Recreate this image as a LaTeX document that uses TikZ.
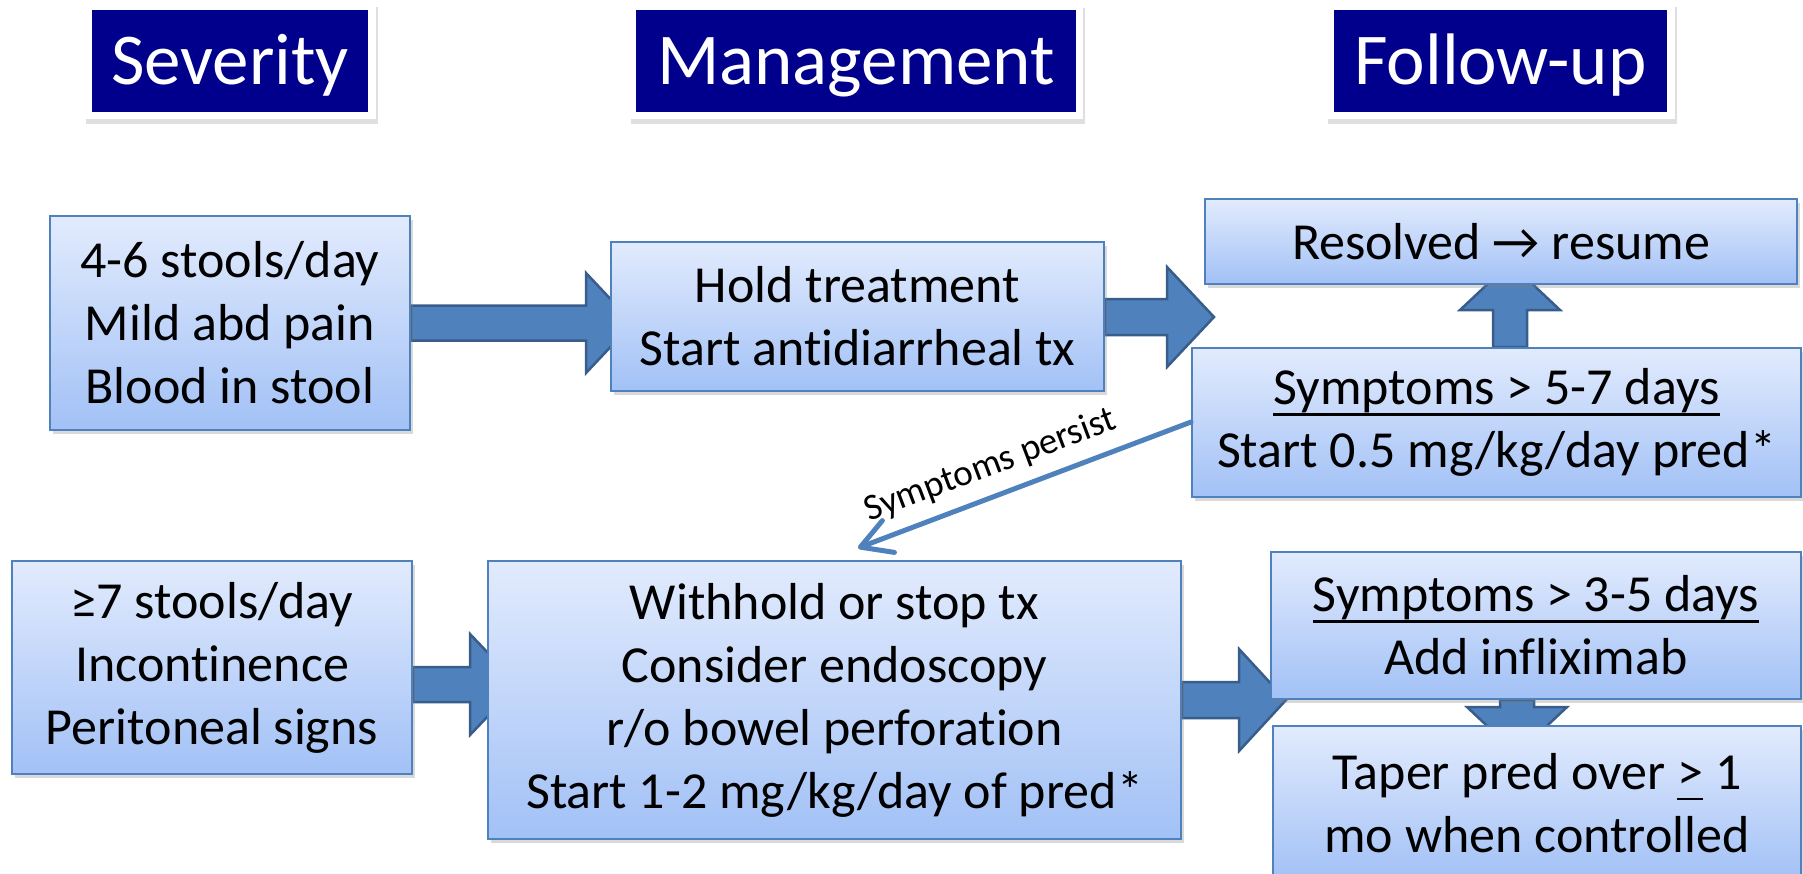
\documentclass[tikz,border=0pt]{standalone}
\usepackage{fontspec}
\setmainfont{Carlito}[Ligatures=NoCommon]
\usetikzlibrary{calc,shadows,arrows.meta}
\pgfdeclarelayer{bg}
\pgfsetlayers{bg,main}
\definecolor{hdrnavy}{RGB}{0,0,140}
\definecolor{boxtop}{RGB}{226,235,253}
\definecolor{boxbot}{RGB}{162,193,246}
\definecolor{boxline}{RGB}{79,129,189}
\definecolor{arrfill}{RGB}{79,129,189}
\definecolor{arrline}{RGB}{56,93,138}
\newcommand\ulx[1]{\setbox0\hbox{#1}\rlap{\rule[-0.21em]{\wd0}{0.05em}}\box0\relax}
\tikzset{
  flowbox/.style={rectangle, draw=boxline, line width=2pt, top color=boxtop, bottom color=boxbot,
    inner sep=0pt, align=center, font=\fontsize{52}{63}\selectfont,
    drop shadow={opacity=0.3, shadow xshift=3pt, shadow yshift=-4pt}},
  hdrframe/.style={rectangle, fill=white, inner sep=0pt,
    drop shadow={opacity=0.25, shadow xshift=2pt, shadow yshift=-5pt}},
  hdrtext/.style={rectangle, fill=hdrnavy, inner sep=0pt, text=white,
    font=\fontsize{73}{88}\selectfont, text height=46pt, text depth=0pt},
  barrow/.style={fill=arrfill, draw=arrline, line width=2.5pt, line join=miter},
  thinarrow/.style={draw=arrfill, line width=5pt, line cap=round,
    -{Straight Barb[length=30pt,width=34pt,line cap=round,line join=round]}},
  lbl/.style={font=\fontsize{37}{44}\selectfont, text=black, inner sep=2pt}
}
% horizontal block arrow: start, target edge, shaft half, head half, head back offset, tip length
\newcommand\rarr[6]{%
  \draw[barrow] ($(#1)+(0,-#3)$) -- ($(#2)+(-#5,-#3)$) -- ($(#2)+(-#5,-#4)$)
    -- ($(#2)+({#6-#5},0)$) -- ($(#2)+(-#5,#4)$) -- ($(#2)+(-#5,#3)$)
    -- ($(#1)+(0,#3)$) -- cycle;}
% vertical block arrow: start, target edge, shaft half, head half, back offset, tip length, dir (+1 down, -1 up)
\newcommand\varr[7]{%
  \draw[barrow] ($(#1)+(-#3,0)$) -- ($(#2)+(-#3,{-(#7)*#5})$) -- ($(#2)+(-#4,{-(#7)*#5})$)
    -- ($(#2)+(0,{(#7)*(#6-#5)})$) -- ($(#2)+(#4,{-(#7)*#5})$) -- ($(#2)+(#3,{-(#7)*#5})$)
    -- ($(#1)+(#3,0)$) -- cycle;}
\begin{document}
\begin{tikzpicture}[x=1pt,y=-1pt]
\useasboundingbox (0,0) rectangle (1803,873);
\clip (0,0) rectangle (1803,873);

% headers
\node[hdrframe, minimum width=292pt, minimum height=117pt] (hf1) at (230,60.5) {};
\node[hdrtext, minimum width=276pt, minimum height=102pt] (h1) at (230,61) {Severity};
\node[hdrframe, minimum width=454pt, minimum height=116pt] (hf2) at (856,61) {};
\node[hdrtext, minimum width=440pt, minimum height=102pt] (h2) at (856,61) {Management};
\node[hdrframe, minimum width=349pt, minimum height=117pt] (hf3) at (1500.5,60.5) {};
\node[hdrtext, minimum width=333pt, minimum height=102pt] (h3) at (1500.5,61) {Follow-up};

% boxes
\node[flowbox, minimum width=360pt, minimum height=214pt] (b1) at (230,323)
  {4-6 stools/day\\Mild abd pain\\Blood in stool};
\node[flowbox, minimum width=493pt, minimum height=149pt] (b2) at (857.5,316.5)
  {Hold treatment\\Start antidiarrheal tx};
\node[flowbox, minimum width=592pt, minimum height=85pt] (b3) at (1501,241.5)
  {Resolved → resume};
\node[flowbox, minimum width=609pt, minimum height=149pt] (b4) at (1496.5,422.5)
  {\ulx{Symptoms > 5-7 days}\\Start 0.5 mg/kg/day pred*};
\node[flowbox, minimum width=400pt, minimum height=213pt] (b5) at (212,667.5)
  {≥7 stools/day\\Incontinence\\Peritoneal signs};
\node[flowbox, minimum width=693pt, minimum height=278pt] (b6) at (834.5,700)
  {Withhold or stop tx\\Consider endoscopy\\r/o bowel perforation\\Start 1-2 mg/kg/day of pred*};
\node[flowbox, minimum width=530pt, minimum height=147pt] (b7) at (1536,625.5)
  {\ulx{Symptoms > 3-5 days}\\Add infliximab};
\node[flowbox, minimum width=528pt, minimum height=154pt] (b8) at (1537,803)
  {Taper pred over \ulx{>}\ 1\\mo when controlled};

% connector coordinates
\coordinate (a1s) at (b1.east |- 0,323);
\coordinate (a1e) at (b2.west |- 0,323);
\coordinate (a2s) at (b2.east |- 0,317);
\coordinate (a2e) at (1214,317);
\coordinate (a5s) at (b5.east |- 0,684.5);
\coordinate (a5e) at (b6.west |- 0,684.5);
\coordinate (a6s) at (b6.east |- 0,700);
\coordinate (a6e) at (b7.west |- 0,700);
\coordinate (u1s) at (b4.north -| 1510,0);
\coordinate (u1e) at (b3.south -| 1510,0);
\coordinate (d1s) at (b7.south -| 1517,0);
\coordinate (d1e) at (b8.north -| 1517,0);
\coordinate (p1) at (b4.west |- 0,422);
\coordinate (p2) at (858,548);

\begin{pgfonlayer}{bg}
  \rarr{a1s}{a1e}{17.5}{50}{24}{47}
  \rarr{a2s}{a2e}{18}{50}{47}{47}
  \rarr{a5s}{a5e}{17.5}{50.5}{17}{48}
  \rarr{a6s}{a6e}{18}{51}{31}{47}
  \varr{u1s}{u1e}{17}{50}{25}{47}{-1}
  \varr{d1s}{d1e}{17}{50}{18}{47}{1}
\end{pgfonlayer}

\draw[thinarrow] (p1) -- (p2) node[lbl, pos=0.57, sloped, above=10pt] {Symptoms persist};
\end{tikzpicture}
\end{document}
